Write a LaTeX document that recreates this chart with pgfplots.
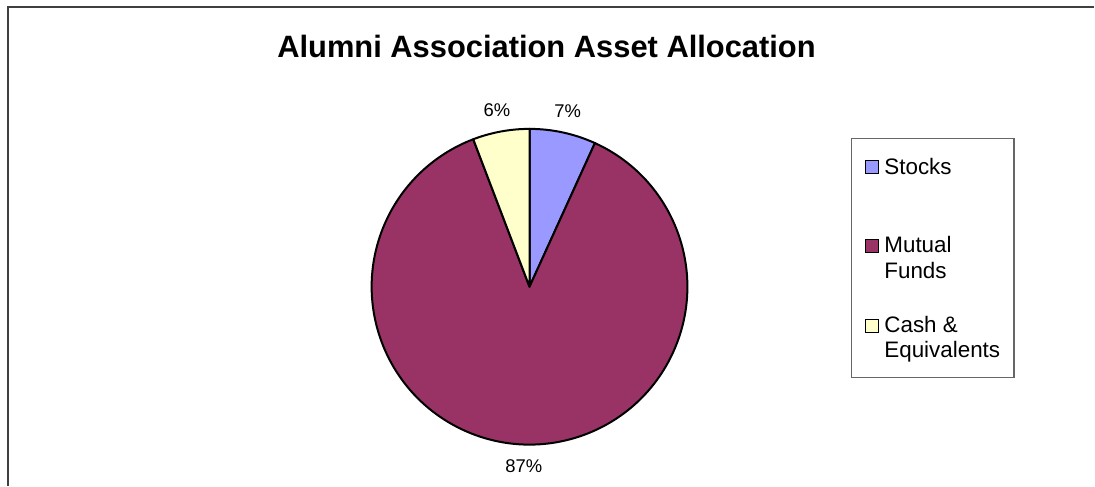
\documentclass[border=0pt]{standalone}
\usepackage{fontspec}
\setmainfont{Liberation Sans}
\usepackage{pgfplots}
\usepackage{pgfplotstable}
\usetikzlibrary{calc}
\pgfplotsset{compat=1.18}
\definecolor{cStocks}{HTML}{9999FF}
\definecolor{cMutual}{HTML}{993366}
\definecolor{cCash}{HTML}{FFFFCC}
\definecolor{frame}{HTML}{404040}
\pgfplotstableread{
name value
Stocks 6.8
Mutual 87.4
Cash 5.8
}\piedata
\begin{document}
\begin{tikzpicture}
\pgfplotstablegetelem{0}{value}\of\piedata \let\vA\pgfplotsretval
\pgfplotstablegetelem{1}{value}\of\piedata \let\vB\pgfplotsretval
\pgfplotstablegetelem{2}{value}\of\piedata \let\vC\pgfplotsretval
\pgfmathsetmacro\aA{90}
\pgfmathsetmacro\aB{90-3.6*\vA}
\pgfmathsetmacro\aC{\aB-3.6*\vB}
\pgfmathsetmacro\aD{\aC-3.6*\vC}
\pgfmathsetmacro\mA{(\aA+\aB)/2}
\pgfmathsetmacro\mB{(\aB+\aC)/2}
\pgfmathsetmacro\mC{(\aC+\aD)/2}
\pgfmathtruncatemacro\pA{round(\vA)}
\pgfmathtruncatemacro\pB{round(\vB)}
\pgfmathtruncatemacro\pC{round(\vC)}
\begin{axis}[hide axis, scale only axis, width=1095bp, height=486bp,
  xmin=0, xmax=1095, ymin=0, ymax=486, clip=false]
\addplot[draw=none] coordinates {(0,0) (1095,486)};
% frame
\draw[frame, line width=2bp] (axis cs:8,0) -- (axis cs:8,479) -- (axis cs:1095,479);
% title
\node[anchor=base, inner sep=0, font=\fontsize{31}{36}\selectfont\bfseries] at (axis cs:547,428) {Alumni Association Asset Allocation};
% slices
\filldraw[fill=cStocks, draw=black, line width=2bp, line join=round] (axis cs:530,199) -- ++(\aA:158bp) arc[start angle=\aA, end angle=\aB, radius=158bp] -- cycle;
\filldraw[fill=cMutual, draw=black, line width=2bp, line join=round] (axis cs:530,199) -- ++(\aB:158bp) arc[start angle=\aB, end angle=\aC, radius=158bp] -- cycle;
\filldraw[fill=cCash, draw=black, line width=2bp, line join=round] (axis cs:530,199) -- ++(\aC:158bp) arc[start angle=\aC, end angle=\aD, radius=158bp] -- cycle;
% percentage labels
\node[inner sep=0, font=\fontsize{18.5}{22}\selectfont] at ($(axis cs:530,199)+(\mA:180bp)$) {\pA\%};
\node[inner sep=0, font=\fontsize{18.5}{22}\selectfont] at ($(axis cs:530,199)+(\mB:180bp)$) {\pB\%};
\node[inner sep=0, font=\fontsize{18.5}{22}\selectfont] at ($(axis cs:530,199)+(\mC:180bp)$) {\pC\%};
% legend
\draw[gray!80!black, line width=1.2bp] (axis cs:852,108) rectangle (axis cs:1015,347);
\filldraw[fill=cStocks, draw=black, line width=1.3bp] (axis cs:866,312) rectangle (axis cs:879,325);
\filldraw[fill=cMutual, draw=black, line width=1.3bp] (axis cs:866,233) rectangle (axis cs:879,246);
\filldraw[fill=cCash, draw=black, line width=1.3bp] (axis cs:866,153) rectangle (axis cs:879,166);
\begin{scope}[every node/.style={anchor=base west, inner sep=0, font=\fontsize{22.5}{26}\selectfont}]
\node at (axis cs:885,311) {Stocks};
\node at (axis cs:885,233) {Mutual};
\node at (axis cs:885,207) {Funds};
\node at (axis cs:885,153) {Cash \&};
\node at (axis cs:885,128) {Equivalents};
\end{scope}
\end{axis}
\end{tikzpicture}
\end{document}
